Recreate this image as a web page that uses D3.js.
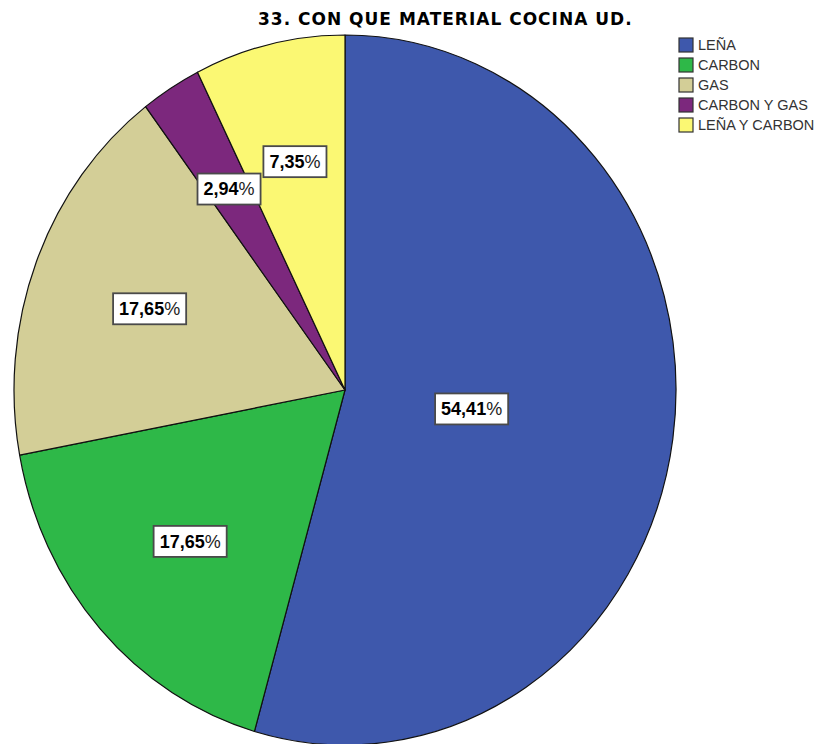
<!DOCTYPE html>
<html>
<head>
<meta charset="utf-8">
<script src="https://cdn.jsdelivr.net/npm/d3@7"></script>
<style>
  html, body { margin: 0; padding: 0; background: #ffffff; }
  svg { display: block; }
</style>
</head>
<body>
<svg id="chart" width="823" height="744"></svg>
<script>
// Survey question 33: cooking fuel used at home (percent of respondents)
const categories = ["LEÑA", "CARBON", "GAS", "CARBON Y GAS", "LEÑA Y CARBON"];
const percents   = [54.41, 17.65, 17.65, 2.94, 7.35];
const colors     = ["#3E58AC", "#2EB848", "#D3CE97", "#7C287D", "#FBF873"];
const title      = "33. CON QUE MATERIAL COCINA UD.";

const svg = d3.select("#chart");

// Elliptical pie: drawn as a circle of radius rx, then stretched vertically
const cx = 345, cy = 390, rx = 331, ry = 355;

const rows = categories.map((c, i) => ({ name: c, value: percents[i], color: colors[i] }));

const pie = d3.pie().value(d => d.value).sort(null);
const arcs = pie(rows);
const arc = d3.arc().innerRadius(0).outerRadius(rx);

const pieG = svg.append("g")
  .attr("transform", `translate(${cx},${cy}) scale(1,${ry / rx})`);

pieG.selectAll("path.slice")
  .data(arcs)
  .join("path")
  .attr("class", "slice")
  .attr("d", arc)
  .attr("fill", d => d.data.color)
  .attr("stroke", "#111")
  .attr("stroke-width", 1.2)
  .attr("stroke-linejoin", "round")
  .attr("vector-effect", "non-scaling-stroke");

// Value labels sit at the area centroid of each sector
const fmt = v => d3.format(".2f")(v).replace(".", ",");
const labelFont = "'Liberation Sans', Arial, sans-serif";
const labelG = svg.append("g");

arcs.forEach(d => {
  const a = d.endAngle - d.startAngle;
  const mid = (d.startAngle + d.endAngle) / 2;
  const k = 4 * Math.sin(a / 2) / (3 * a);
  const x = cx + k * Math.sin(mid) * rx;
  const y = cy - k * Math.cos(mid) * ry;

  const g = labelG.append("g").attr("transform", `translate(${x},${y})`);
  const rect = g.append("rect");
  const t = g.append("text")
    .attr("font-family", labelFont)
    .attr("font-size", 18)
    .attr("fill", "#000")
    .attr("text-anchor", "middle")
    .attr("dy", "0.35em");
  t.append("tspan").attr("font-weight", "bold").text(fmt(d.data.value));
  t.append("tspan").attr("font-weight", "normal").attr("fill", "#222").text("%");

  const bb = t.node().getBBox();
  const padX = 6, boxH = 31;
  rect.attr("x", bb.x - padX)
    .attr("y", -boxH / 2)
    .attr("width", bb.width + padX * 2)
    .attr("height", boxH)
    .attr("fill", "#ffffff")
    .attr("stroke", "#4a4a4a")
    .attr("stroke-width", 1.8);
});

// Title
svg.append("text")
  .attr("x", 258)
  .attr("y", 25)
  .attr("font-family", "'DejaVu Sans', Verdana, sans-serif")
  .attr("font-weight", "bold")
  .attr("font-size", 17)
  .attr("letter-spacing", 1)
  .attr("fill", "#000")
  .text(title);

// Legend
const legend = svg.append("g").attr("transform", "translate(679,38)");
const rowH = 20, sw = 14;
const items = legend.selectAll("g.item")
  .data(rows)
  .join("g")
  .attr("class", "item")
  .attr("transform", (d, i) => `translate(0,${i * rowH})`);

items.append("rect")
  .attr("width", sw)
  .attr("height", sw)
  .attr("fill", d => d.color)
  .attr("stroke", "#333")
  .attr("stroke-width", 1.2);

items.append("text")
  .attr("x", sw + 5)
  .attr("y", sw / 2)
  .attr("dy", "0.36em")
  .attr("font-family", labelFont)
  .attr("font-size", 14.5)
  .attr("fill", "#333")
  .text(d => d.name);
</script>
</body>
</html>
